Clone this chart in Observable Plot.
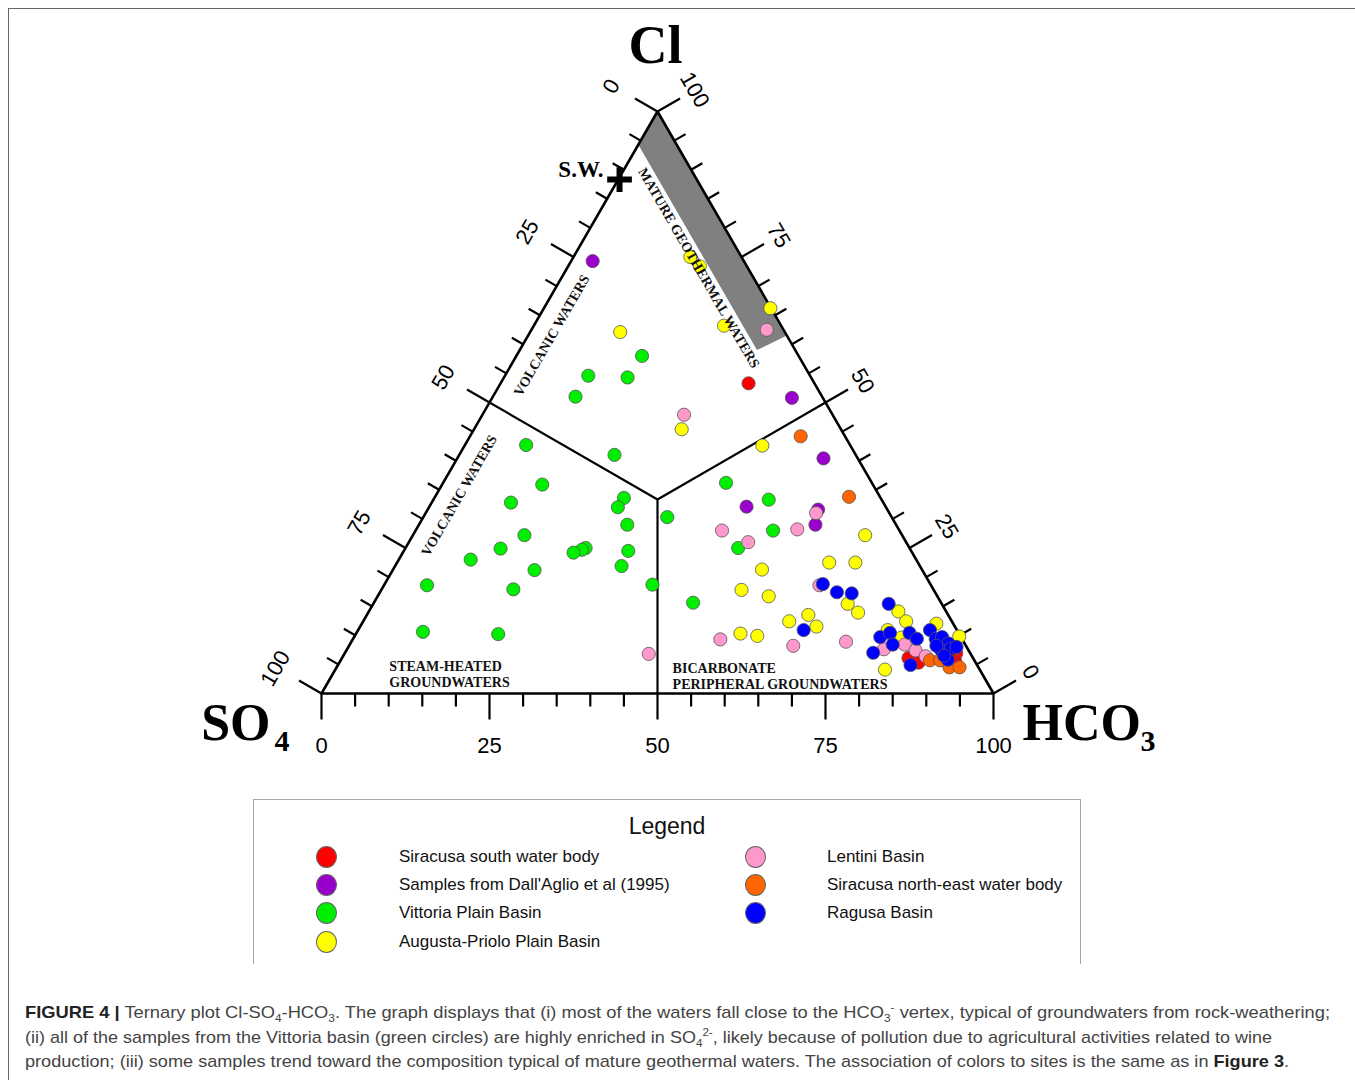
<!DOCTYPE html>
<html><head><meta charset="utf-8">
<script src="https://cdn.jsdelivr.net/npm/d3@7"></script>
<script src="https://cdn.jsdelivr.net/npm/@observablehq/plot@0.6"></script>
<style>
html,body{margin:0;padding:0;background:#fff;}
body{width:1355px;height:1080px;position:relative;overflow:hidden;font-family:"Liberation Sans",Arial,sans-serif;}
#frame{position:absolute;left:8px;top:8px;width:1360px;height:1090px;border-top:1.5px solid #666;border-left:1.5px solid #666;}
#chart{position:absolute;left:0;top:0;}
#legend{position:absolute;left:253px;top:799px;width:826px;height:164px;border:1px solid #a6a6a6;border-bottom:none;}
#legend .title{position:absolute;left:0;width:826px;top:13px;text-align:center;font-size:23px;color:#111;}
#legend .mk{position:absolute;width:21px;height:22px;border-radius:50%;border:1px solid #666;box-sizing:border-box;}
#legend .lb{position:absolute;font-size:17px;color:#111;white-space:nowrap;line-height:20px;}
.cap{position:absolute;left:25px;font-size:17px;color:#444;white-space:nowrap;transform-origin:0 50%;line-height:22px;}
.cap b{color:#222;}
.cap sub,.cap sup{font-size:11px;line-height:0;position:relative;vertical-align:baseline;}
.cap sub{top:4px;} .cap sup{top:-7px;}
</style></head>
<body>
<div id="frame"></div>
<div id="chart"></div>
<div id="legend"></div>
<div class="cap" id="c1" style="top:1002px"><b>FIGURE 4 |</b> Ternary plot Cl-SO<sub>4</sub>-HCO<sub>3</sub>. The graph displays that (i) most of the waters fall close to the HCO<sub>3</sub><sup>-</sup> vertex, typical of groundwaters from rock-weathering;</div>
<div class="cap" id="c2" style="top:1027px">(ii) all of the samples from the Vittoria basin (green circles) are highly enriched in SO<sub>4</sub><sup>2-</sup>, likely because of pollution due to agricultural activities related to wine</div>
<div class="cap" id="c3" style="top:1051px">production; (iii) some samples trend toward the composition typical of mature geothermal waters. The association of colors to sites is the same as in <b>Figure 3</b>.</div>
<script>
// ---------- DATA: each sample as [Cl %, HCO3 %] (SO4 % = remainder) ----------
const siracusaSouth = [[53.3,36.9],[6.1,84.3],[6.9,91.0],[5.7,91.4],[5.3,86.2],[6.5,90.4]];
const dallAglio = [[74.3,3.2],[50.8,44.6],[40.4,54.5],[32.1,47.2],[31.6,58.1],[29.0,59.0]];
const vittoriaPlain = [[58.0,18.7],[54.6,12.4],[54.3,18.4],[51.0,12.3],[42.7,9.1],[41.0,23.1],[35.9,14.9],[32.8,11.8],
  [33.6,28.2],[32.0,28.1],[29.0,31.0],[30.3,36.3],[27.2,16.6],[24.9,14.2],[23.0,10.7],[25.0,26.8],[24.7,26.4],[24.2,25.4],
  [24.5,33.4],[21.9,33.7],[21.2,21.1],[18.6,6.4],[17.9,19.6],[18.7,39.9],[15.6,47.5],[10.6,9.8],[10.2,21.2],
  [36.2,42.1],[33.3,49.9],[28.0,53.2],[25.0,49.5]];
const augustaPriolo = [[75.0,17.4],[73.4,19.6],[66.2,33.7],[63.2,28.3],[62.1,13.4],[45.4,30.9],[42.6,44.3],[27.2,67.3],
  [22.5,64.3],[22.5,68.2],[21.3,54.9],[17.8,53.6],[16.7,58.2],[15.4,70.6],[13.9,72.9],[14.1,78.8],[12.4,80.8],[13.5,65.7],
  [12.4,63.4],[11.5,67.9],[10.3,57.2],[9.9,59.9],[12.0,85.5],[9.8,90.0],[10.9,78.8],[4.1,81.8],[9.6,81.5]];
const lentini = [[62.5,35.0],[47.9,30.0],[31.0,58.1],[28.0,45.6],[28.2,56.7],[26.0,50.5],[18.6,64.8],[9.3,54.7],[8.2,66.1],
  [8.9,73.6],[6.8,45.3],[7.6,79.9],[8.4,82.6],[7.4,84.7],[6.4,86.7]];
const siracusaNE = [[44.2,49.2],[33.8,61.6],[5.7,87.7],[5.7,89.2],[4.5,91.2],[4.5,92.7]];
const ragusa = [[18.8,65.2],[17.4,68.0],[17.2,70.3],[15.4,76.7],[10.9,66.3],[9.7,78.3],[10.4,79.4],[8.4,80.8],[10.4,82.3],
  [9.4,83.9],[7.0,78.6],[4.9,85.2],[10.9,85.1],[9.4,86.7],[9.7,87.5],[8.6,89.0],[7.5,88.4],[7.7,89.8],[5.8,90.3],[8.2,87.4],
  [8.0,90.5],[6.5,89.4]];
const seaWater = [[88.3,0.2]];

const seriesNames = ["Siracusa south water body","Samples from Dall'Aglio et al (1995)","Vittoria Plain Basin","Augusta-Priolo Plain Basin",
  "Lentini Basin","Siracusa north-east water body","Ragusa Basin"];
const seriesColors = ["#ff0000","#9900cc","#00ee00","#ffff00","#ff99cc","#ff6600","#0000ff"];
const seriesData = [siracusaSouth, dallAglio, vittoriaPlain, augustaPriolo, lentini, siracusaNE, ragusa];
const drawOrder = [2,1,3,0,4,5,6];

const tickValues = [0,5,10,15,20,25,30,35,40,45,50,55,60,65,70,75,80,85,90,95,100];
const tickLabels = [0,25,50,75,100];
// Mature geothermal band, as [Cl %, HCO3 %]
const geothermalBand = [[100,0],[94.3,0],[59.0,35.3],[61.5,38.5]];
// region labels, as [Cl %, HCO3 %]
const rotatedLabels = [
  {t:"VOLCANIC WATERS", p:[61.5,3.5], rot:-60},
  {t:"VOLCANIC WATERS", p:[34.0,3.5], rot:-60},
  {t:"MATURE GEOTHERMAL WATERS", p:[73.1,19.6], rot:60}
];
const zoneLabels = [
  {t:"STEAM-HEATED\nGROUNDWATERS", p:[3.4,8.4]},
  {t:"BICARBONATE\nPERIPHERAL GROUNDWATERS", p:[3.1,50.7]}
];

// ---------- GEOMETRY ----------
const SQ = Math.sqrt(3)/2;
const X = d => d[1] + d[0]/2;
const Y = d => d[0]*SQ;
const pxUnit = 100/672; // data units per pixel
const tLen = v => (v % 25 === 0 ? 26 : 13) * pxUnit;

const leftTicks = tickValues.map(s => {const p=[100-s,0]; const L=tLen(s); return {x1:X(p),y1:Y(p),x2:X(p)-L*SQ,y2:Y(p)+L/2};});
const rightTicks = tickValues.map(c => {const p=[c,100-c]; const L=tLen(c); return {x1:X(p),y1:Y(p),x2:X(p)+L*SQ,y2:Y(p)+L/2};});
const bottomTicks = tickValues.map(h => {const p=[0,h]; const L=tLen(h); return {x1:X(p),y1:Y(p),x2:X(p),y2:Y(p)-L};});
const ticks = leftTicks.concat(rightTicks, bottomTicks);

const centroid = [100/3,100/3];
const dividers = [[50,0],[50,50],[0,50]].map(m => ({x1:X(centroid),y1:Y(centroid),x2:X(m),y2:Y(m)}));
const triangle = [[0,0],[0,100],[100,0],[0,0]];

const serif = "'Liberation Serif','Times New Roman',serif";
const sans = "'Liberation Sans',Arial,sans-serif";

const marks = [
  Plot.line(geothermalBand, {x:X, y:Y, fill:"#808080", stroke:"none"}),
  Plot.line(triangle, {x:X, y:Y, stroke:"#000", strokeWidth:2.6, strokeLinejoin:"miter"}),
  Plot.link(ticks, {x1:"x1",y1:"y1",x2:"x2",y2:"y2", stroke:"#000", strokeWidth:2.2}),
  Plot.link(dividers, {x1:"x1",y1:"y1",x2:"x2",y2:"y2", stroke:"#000", strokeWidth:2.2}),
  // tick labels
  Plot.text(tickLabels, {x:s=>X([100-s,0]), y:s=>Y([100-s,0]), text:s=>String(s), dx:-46, dy:-25, rotate:-60, fontSize:22, fontFamily:sans, fill:"#000"}),
  Plot.text(tickLabels, {x:c=>X([c,100-c]), y:c=>Y([c,100-c]), text:c=>String(c), dx:37, dy:-21.5, rotate:60, fontSize:22, fontFamily:sans, fill:"#000"}),
  Plot.text(tickLabels, {x:h=>X([0,h]), y:h=>Y([0,h]), text:h=>String(h), dy:52, fontSize:22, fontFamily:sans, fill:"#000"}),
  // vertex labels
  Plot.text([[100,0]], {x:X, y:Y, text:()=>"Cl", dy:-66, dx:-2, fontSize:54, fontWeight:"bold", fontFamily:serif, fill:"#000"}),
  Plot.text([[0,0]], {x:X, y:Y, text:()=>"SO", dx:-51, dy:30, textAnchor:"end", fontSize:52, fontWeight:"bold", fontFamily:serif, fill:"#000"}),
  Plot.text([[0,0]], {x:X, y:Y, text:()=>"4", dx:-47, dy:48, textAnchor:"start", fontSize:30, fontWeight:"bold", fontFamily:serif, fill:"#000"}),
  Plot.text([[0,100]], {x:X, y:Y, text:()=>"HCO", dx:29, dy:30, textAnchor:"start", fontSize:52, fontWeight:"bold", fontFamily:serif, fill:"#000"}),
  Plot.text([[0,100]], {x:X, y:Y, text:()=>"3", dx:147, dy:48, textAnchor:"start", fontSize:30, fontWeight:"bold", fontFamily:serif, fill:"#000"}),
];
for (const i of drawOrder) {
  marks.push(Plot.dot(seriesData[i], {x:X, y:Y, r:6.6, fill:seriesColors[i], stroke:"#555", strokeWidth:0.8}));
}
marks.push(
  Plot.text(rotatedLabels, {x:d=>X(d.p), y:d=>Y(d.p), text:"t", rotate:"rot", textAnchor:"middle", fontSize:14, fontWeight:"bold", fontFamily:serif, fill:"#111"}),
  Plot.text(zoneLabels, {x:d=>X(d.p), y:d=>Y(d.p), text:"t", textAnchor:"start", fontSize:14, fontWeight:"bold", fontFamily:serif, lineHeight:1.15, fill:"#111"}),
  Plot.dot(seaWater, {x:X, y:Y, symbol:"plus", r:8, stroke:"#000", strokeWidth:6}),
  Plot.text(seaWater, {x:X, y:Y, text:()=>"S.W.", dx:-16, dy:-10, textAnchor:"end", fontSize:23, fontWeight:"bold", fontFamily:serif, fill:"#000"})
);

const chart = Plot.plot({
  width:1355, height:780,
  marginLeft:321, marginRight:362, marginTop:111, marginBottom:87,
  x:{domain:[0,100], axis:null},
  y:{domain:[0,100*SQ], axis:null},
  style:{background:"transparent", overflow:"visible"},
  marks
});
document.getElementById("chart").appendChild(chart);

// ---------- LEGEND ----------
const legend = document.getElementById("legend");
const t = document.createElement("div"); t.className="title"; t.textContent="Legend"; legend.appendChild(t);
const cols = [[0,1,2,3],[4,5,6]];
const rowY = [57,85,113,142];
cols.forEach((col,ci) => col.forEach((si,ri) => {
  const mk = document.createElement("div"); mk.className="mk";
  mk.style.left = (ci ? 491 : 62) + "px"; mk.style.top = (rowY[ri]-11) + "px"; mk.style.background = seriesColors[si];
  legend.appendChild(mk);
  const lb = document.createElement("div"); lb.className="lb"; lb.textContent = seriesNames[si];
  lb.style.left = (ci ? 573 : 145) + "px"; lb.style.top = (rowY[ri]-10) + "px";
  legend.appendChild(lb);
}));

// ---------- caption fit ----------
[["c1",1305],["c2",1247],["c3",1264]].forEach(([id,w]) => {
  const el = document.getElementById(id);
  const cw = el.getBoundingClientRect().width;
  el.style.transform = `scaleX(${w/cw})`;
});
</script>
</body></html>
